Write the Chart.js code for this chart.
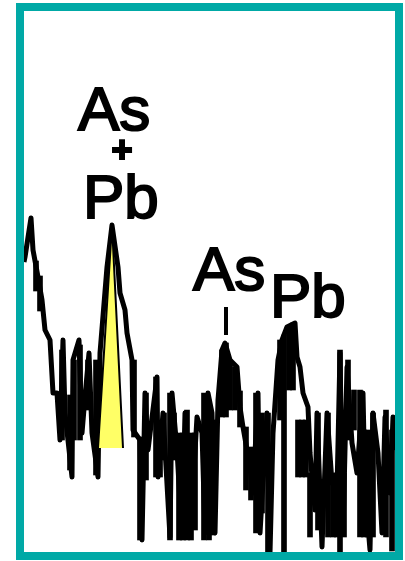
<!DOCTYPE html>
<html>
<head>
<meta charset="utf-8">
<script src="https://cdn.jsdelivr.net/npm/chart.js@4.4.1/dist/chart.umd.min.js"></script>
<style>
  html, body { margin: 0; padding: 0; background: #fff; }
  #wrap { position: relative; width: 405px; height: 561px; }
  #frame {
    position: absolute; left: 16px; top: 3px; width: 371px; height: 541px;
    border: 8px solid #00a9a6; pointer-events: none;
  }
</style>
</head>
<body>
<div id="wrap">
  <canvas id="spectrum" width="405" height="561"></canvas>
  <div id="frame"></div>
</div>
<script>
// channel (x) and counts
const channels = [24, 25, 31, 33, 38, 42, 45, 50, 53, 57, 60, 63, 65, 72, 73, 79, 82, 85, 89, 92,
  98, 100, 107, 112, 118, 120, 125, 127, 132, 133, 140, 142, 145, 148, 157, 158, 163, 170, 172, 177,
  182, 185, 190, 197, 202, 205, 208, 212, 215, 218, 222, 225, 230, 237, 240, 243, 250, 253, 258, 260,
  267, 270, 273, 278, 282, 287, 295, 297, 300, 303, 308, 310, 315, 317, 322, 327, 332, 337, 340, 343,
  347, 352, 357, 363, 365, 370, 373, 378, 382, 385, 390, 393, 396];
const counts = [299, 304, 343, 311, 284, 261, 231, 221, 168, 168, 121, 221, 148, 84, 201, 221, 128, 164, 208, 128,
  84, 208, 294, 336, 294, 268, 251, 228, 201, 131, 121, 21, 168, 111, 184, 84, 148, 24, 168, 111,
  24, 148, 24, 144, 128, 28, 168, 148, 28, 161, 211, 218, 201, 194, 154, 134, 94, 68, 168, 28,
  148, 8, 128, 201, 221, 234, 238, 204, 194, 168, 154, 108, 51, 148, 14, 148, 78, 71, 208, 28,
  194, 118, 88, 168, 71, 11, 148, 108, 28, 144, 68, 144, 111];

// per-channel noise band (min / max counts) where the trace smears into blocks
const bandX = [36, 40, 62, 70, 74, 80, 88, 96,
  134, 140, 146, 156, 160, 164, 170, 174, 179, 183, 187, 191, 195, 204, 209, 213,
  222, 226, 230, 235, 240, 246, 251, 256, 262, 268,
  280, 284, 289, 293, 298, 302, 306, 310, 318, 328, 333, 337, 340, 344, 348, 354, 360, 364, 368, 373, 386, 392];
const bandLo = [270, 250, 121, 91, 121, 121, 151, 86,
  124, 21, 81, 84, 84, 101, 21, 101, 21, 21, 21, 21, 31, 21, 21, 26,
  144, 144, 151, 151, 134, 71, 61, 28, 48, 8,
  141, 8, 171, 171, 84, 84, 84, 24, 31, 24, 24, 24, 6, 24, 121, 131, 24, 24, 24, 24, 24, 10];
const bandHi = [300, 285, 211, 166, 201, 216, 201, 201,
  201, 124, 168, 184, 124, 148, 168, 148, 128, 128, 151, 128, 128, 168, 161, 141,
  211, 218, 201, 194, 170, 134, 114, 168, 148, 148,
  221, 226, 234, 238, 141, 141, 141, 88, 148, 148, 88, 88, 211, 88, 201, 171, 171, 131, 131, 148, 151, 131];

// highlighted As+Pb peak
const peakX = [98, 112, 123];
const peakY = [113, 336, 113];
const peakBase = 113;

// marker under the second As line
const tickX = [226, 226];
const tickY = [254, 226];

const labelText = ["As", "+", "Pb", "As", "Pb"];
const labelX = [78, 122, 83, 193, 270];
const labelY = [431, 409, 343, 271, 244];

function pts(xs, ys) { return xs.map((x, i) => ({ x: x, y: ys[i] })); }

const labelPlugin = {
  id: 'peakLabels',
  afterDatasetsDraw(chart) {
    const ctx = chart.ctx, sx = chart.scales.x, sy = chart.scales.y;
    ctx.save();
    ctx.fillStyle = '#000';
    ctx.strokeStyle = '#000';
    ctx.lineWidth = 2;
    labelText.forEach((t, i) => {
      const px = sx.getPixelForValue(labelX[i]);
      const py = sy.getPixelForValue(labelY[i]);
      if (t === '+') {
        ctx.font = 'bold 36px "Liberation Sans", Arial, sans-serif';
        ctx.textAlign = 'center';
        ctx.textBaseline = 'middle';
      } else {
        ctx.font = '62px "Liberation Sans", Arial, sans-serif';
        ctx.textAlign = 'left';
        ctx.textBaseline = 'alphabetic';
      }
      ctx.fillText(t, px, py);
      ctx.strokeText(t, px, py);
    });
    ctx.restore();
  }
};

window.onload = function () {
  const ctx = document.getElementById('spectrum').getContext('2d');
  new Chart(ctx, {
    type: 'scatter',
    data: {
      datasets: [
        {
          label: 'As+Pb peak',
          order: 0,
          data: pts(peakX, peakY),
          showLine: true,
          borderColor: '#000',
          borderWidth: 2,
          backgroundColor: '#ffff66',
          fill: { target: { value: peakBase } },
          pointRadius: 0,
          tension: 0
        },
        {
          label: 'marker',
          order: 1,
          data: pts(tickX, tickY),
          showLine: true,
          borderColor: '#000',
          borderWidth: 4,
          pointRadius: 0
        },
        {
          label: 'spectrum',
          order: 2,
          data: pts(channels, counts),
          showLine: true,
          borderColor: '#000',
          borderWidth: 5,
          borderJoinStyle: 'round',
          pointRadius: 0,
          tension: 0,
          fill: false
        },
        {
          type: 'bar',
          label: 'noise band',
          order: 3,
          data: bandX.map((x, i) => ({ x: x, y: [bandLo[i], bandHi[i]] })),
          backgroundColor: '#000',
          borderWidth: 0,
          barThickness: 5
        }
      ]
    },
    options: {
      responsive: false,
      animation: false,
      layout: { padding: 0 },
      plugins: { legend: { display: false }, tooltip: { enabled: false } },
      scales: {
        x: { type: 'linear', min: 0, max: 405, offset: false, display: false },
        y: { type: 'linear', min: 0, max: 561, display: false }
      }
    },
    plugins: [labelPlugin]
  });
};
</script>
</body>
</html>
